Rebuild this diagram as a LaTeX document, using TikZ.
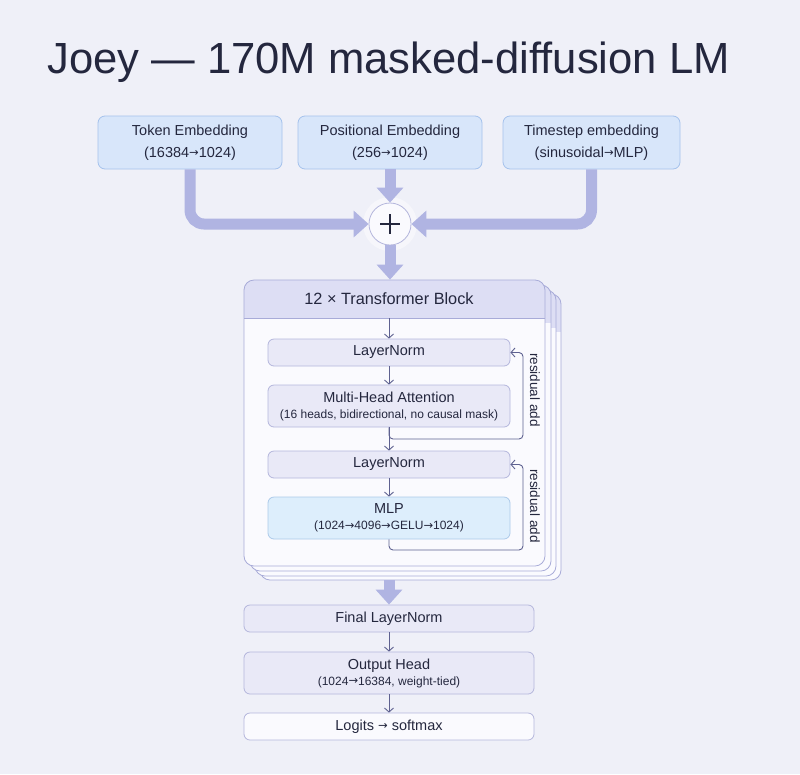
\documentclass[tikz,border=0pt]{standalone}
\usepackage{fontspec}
\setmainfont{Liberation Sans}
\newfontfamily\arrfont{DejaVu Sans}
\usetikzlibrary{arrows.meta,positioning}

\definecolor{bgcol}{RGB}{239,240,248}
\definecolor{inkcol}{RGB}{36,39,62}
\definecolor{boxfill}{RGB}{233,233,247}
\definecolor{boxline}{RGB}{180,182,220}
\definecolor{embfill}{RGB}{216,230,250}
\definecolor{embline}{RGB}{165,194,236}
\definecolor{mlpfill}{RGB}{221,238,252}
\definecolor{mlpline}{RGB}{172,202,234}
\definecolor{blockfill}{RGB}{250,250,254}
\definecolor{blockline}{RGB}{168,171,216}
\definecolor{hdrfill}{RGB}{221,222,244}
\definecolor{fatcol}{RGB}{176,180,226}
\definecolor{thincol}{RGB}{94,97,144}

\newcommand\fsmain{\fontsize{14.5}{22}\selectfont}
\newcommand\fssub{\fontsize{12}{15}\selectfont}
\newcommand\toarr{\raisebox{0.6pt}{\arrfont\fontsize{11.5}{11.5}\selectfont →}}

\tikzset{
  embbox/.style={draw=embline, fill=embfill, rounded corners=7pt, line width=0.8pt,
    minimum height=53pt, inner sep=0pt, align=center, font=\fsmain, text=inkcol},
  flowbox/.style={draw=boxline, fill=boxfill, rounded corners=6pt, line width=0.8pt,
    minimum width=242pt, inner sep=0pt, align=center, font=\fsmain, text=inkcol},
  outbox/.style={flowbox, minimum width=290pt},
  fatarrow/.style={draw=fatcol, line width=11pt, rounded corners=14pt,
    -{Triangle[width=26pt,length=15pt]}},
  thinarrow/.style={draw=thincol, line width=0.9pt, -{Straight Barb[length=4pt,width=9pt]}},
  resline/.style={thinarrow, rounded corners=4pt},
  reslabel/.style={rotate=-90, font=\fontsize{13.5}{15}\selectfont, text=inkcol, inner sep=0pt},
  layer/.style={draw=blockline, fill=blockfill, line width=0.8pt, rounded corners=10pt}
}

\begin{document}
\begin{tikzpicture}[x=1pt,y=-1pt]
\fill[bgcol] (0,0) rectangle (800,774);
\useasboundingbox (0,0) rectangle (800,774);

\node[anchor=base west, inner sep=0pt, text=inkcol, font=\fontsize{43.6}{50}\selectfont]
  (title) at (47,73) {Joey — 170M masked-diffusion LM};

% embeddings
\node[embbox, minimum width=184pt] (tok) at (190,142.5) {Token Embedding\\(16384\toarr1024)};
\node[embbox, minimum width=184pt] (pos) at (390,142.5) {Positional Embedding\\(256\toarr1024)};
\node[embbox, minimum width=177pt] (time) at (591.5,142.5) {Timestep embedding\\(sinusoidal\toarr MLP)};

\fill[white, opacity=0.45] (390,224) circle (27);
\node[circle, draw=boxline, fill=blockfill, line width=0.8pt, minimum size=42pt, inner sep=0pt]
  (plus) at (390,224) {};
\draw[inkcol, line width=1.4pt] (plus.center) +(-10,0) -- +(10,0) (plus.center) +(0,-10) -- +(0,10);

\draw[fatarrow] (tok.south) |- (plus.west);
\draw[fatarrow] (time.south) |- (plus.east);
\draw[fatarrow] (pos.south) -- (plus.north);

% stacked block
\foreach \dx/\dy in {16/14, 11/10, 6/5}{
  \begin{scope}[shift={(\dx,\dy)}]
    \begin{scope}
      \path[clip, rounded corners=10pt] (244,280) rectangle (545,566);
      \fill[blockfill] (244,280) rectangle (545,566);
      \fill[hdrfill] (244,280) rectangle (545,318);
    \end{scope}
    \draw[layer, fill=none] (244,280) rectangle (545,566);
  \end{scope}
}
\begin{scope}
  \path[clip, rounded corners=10pt] (244,280) rectangle (545,566);
  \fill[blockfill] (244,280) rectangle (545,566);
  \fill[hdrfill] (244,280) rectangle (545,318);
\end{scope}
\node[layer, fill=none, minimum width=301pt, minimum height=286pt, inner sep=0pt] (block) at (394.5,423) {};
\draw[blockline, line width=0.8pt] (244,318) -- (545,318);
\node[font=\fontsize{16.3}{18}\selectfont, text=inkcol] (hdr) at (389,299) {12 × Transformer Block};
\coordinate (hdrb) at (389,318);

\draw[fatarrow] (plus.south) -- (plus.south |- block.north);

% inside the block
\node[flowbox, minimum height=27pt] (ln1) at (389,352.5) {LayerNorm};
\node[flowbox, minimum height=42pt] (mha) at (389,406)
  {Multi-Head Attention\\[-6pt]{\fssub (16 heads, bidirectional, no causal mask)}};
\node[flowbox, minimum height=27pt] (ln2) at (389,464.5) {LayerNorm};
\node[flowbox, draw=mlpline, fill=mlpfill, minimum height=42pt] (mlp) at (389,518)
  {MLP\\[-6pt]{\fssub (1024\toarr4096\toarr GELU\toarr1024)}};

\draw[thinarrow] (hdrb) -- (ln1);
\draw[thinarrow] (ln1) -- (mha);
\draw[thinarrow] (mha) -- (ln2);
\draw[thinarrow] (ln2) -- (mlp);

\coordinate (r1) at (523,439);
\coordinate (r2) at (523,550);
\draw[resline] (mha.south) |- (r1) |- (ln1.east);
\draw[resline] (mlp.south) |- (r2) |- (ln2.east);
\node[reslabel] (lbl1) at (535,390) {residual add};
\node[reslabel] (lbl2) at (535,506) {residual add};

% output
\node[outbox, minimum height=27pt] (fln) at (389,618.5) {Final LayerNorm};
\node[outbox, minimum height=42pt] (head) at (389,673)
  {Output Head\\[-6pt]{\fssub (1024\toarr16384, weight-tied)}};
\node[outbox, fill=blockfill, minimum height=27pt] (logits) at (389,726.5) {Logits \toarr{} softmax};

\draw[fatarrow] (block.south -| fln.north) ++(0,14) -- (fln.north);
\draw[thinarrow] (fln) -- (head);
\draw[thinarrow] (head) -- (logits);
\end{tikzpicture}
\end{document}
